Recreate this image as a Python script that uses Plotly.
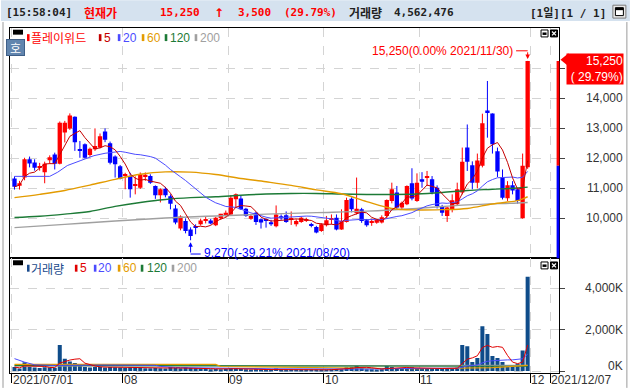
import plotly.graph_objects as go
import pandas as pd

# ---------------- data ----------------
month_tick_pos = [-0.5, 21.5, 42.5, 61.5, 80.5, 102.5, 106.5]
month_tick_text = ["2021/07/01", "08", "09", "10", "11", "12", "2021/12/07"]

opens = [11330, 11090, 11360, 11970, 11860, 11690, 11540, 11940, 12130, 11820,
         12860, 13000, 13390, 12310, 12470, 12110, 12300, 12360, 12900, 12500,
         12060, 11740,
         11430, 11410, 11100, 11020, 11400, 11410, 11080, 10770, 10990, 10740,
         10330, 9660, 9910, 9630, 9740, 9800, 9930, 9930, 9770, 10000, 10100,
         10130, 10640, 10660, 10320, 9990, 10190, 9970, 9980, 9870, 9740,
         10070, 10100, 9970, 9800, 9880, 9920, 9800, 9710, 9580,
         9770, 9950, 10020, 9630, 9880, 10650, 10170, 10300, 9940, 9850,
         9850, 9860, 10080, 10580, 10860, 10360, 10470, 11170, 10580,
         11300, 11350, 11300, 11020, 10410, 10080, 10300, 10470, 10860, 12360,
         11770, 11190, 11750, 13600, 13500, 12240, 11360, 10670, 11100, 10970,
         10000, 11700]
highs = [11400, 11250, 12020, 12060, 11970, 11850, 11890, 12100, 12190, 13230,
         13250, 13500, 13400, 12580, 12500, 12360, 13000, 12830, 13000, 12560,
         12100, 11780,
         11520, 11520, 11400, 11530, 11530, 11470, 11100, 11000, 11050, 10800,
         10450, 10100, 10000, 9700, 9800, 9990, 10050, 9980, 10050, 10150, 10260,
         10770, 10830, 10750, 10350, 10150, 10220, 10000, 10000, 9950, 10430,
         10130, 10230, 10230, 9970, 10050, 10020, 9850, 9750, 9830,
         10080, 10130, 10130, 10300, 10690, 10700, 11360, 10350, 9980, 9990,
         9980, 10100, 10630, 11190, 11080, 10560, 11100, 11670, 11500,
         11540, 11580, 11410, 11100, 10450, 10380, 10800, 11190, 12360, 13130,
         11900, 12160, 13490, 14580, 13500, 12360, 11630, 11240, 11240, 10990,
         12160, 15250]
lows = [10960, 10960, 11270, 11700, 11590, 11590, 11170, 11820, 11630, 11800,
        12530, 12950, 12250, 12020, 12000, 12050, 12250, 12330, 12540, 11800,
        11360, 11300,
        10970, 10690, 10800, 10980, 11250, 11150, 10650, 10530, 10700, 10300,
        9800, 9600, 9500, 9270, 9470, 9760, 9830, 9800, 9740, 9950, 10050,
        10100, 10350, 10280, 10050, 9950, 9780, 9660, 9690, 9750, 9700,
        9950, 9850, 9780, 9730, 9850, 9880, 9700, 9500, 9550,
        9730, 9800, 9600, 9620, 9860, 10200, 10130, 9850, 9720, 9750,
        9820, 9830, 9990, 10500, 10300, 10300, 10440, 10600, 10550,
        11020, 11080, 10800, 10330, 10080, 9880, 10200, 10420, 10800, 11580,
        10970, 11000, 11700, 12690, 12160, 11380, 10630, 10580, 10800, 10490,
        9990, 11650]
closes = [11050, 11170, 11970, 11830, 11690, 11740, 11820, 12040, 11820, 13190,
          13190, 13430, 12540, 12270, 12020, 12320, 12410, 12740, 12620, 11850,
          11800, 11320,
          11460, 10970, 11140, 11470, 11450, 11190, 10770, 10970, 10770, 10490,
          9860, 10060, 9580, 9410, 9700, 9930, 9960, 9830, 10020, 10150, 10190,
          10690, 10800, 10300, 10080, 10080, 9880, 9860, 9930, 9800, 10130,
          10000, 9880, 10000, 9910, 10020, 9970, 9750, 9530, 9800,
          9940, 10000, 9630, 9910, 10610, 10300, 10320, 9910, 9770, 9880,
          9950, 10040, 10610, 10970, 10360, 10520, 11080, 10660, 11190,
          11220, 11400, 10860, 10410, 10190, 10360, 10600, 10970, 11890, 11890,
          11190, 11930, 13170, 13510, 12470, 11560, 10690, 11100, 10930, 10580,
          11750, 15250]
volumes_k = [190, 120, 430, 190, 170, 150, 180, 170, 160, 1265,
             590, 465, 385, 270, 190, 170, 200, 190, 170, 190, 180, 170,
             160, 180, 190, 160, 140, 130, 150, 140, 120, 190,
             150, 140, 180, 150, 130, 110, 100, 90, 100, 90, 100,
             150, 130, 100, 80, 70, 80, 70, 60, 60, 120,
             70, 60, 70, 60, 60, 60, 50, 60, 60,
             70, 80, 100, 90, 180, 200, 270, 150, 90, 80,
             70, 90, 270, 200, 150, 100, 150, 180, 140,
             130, 110, 120, 150, 110, 120, 110, 170, 1265, 1200,
             433, 625, 2165, 1795, 722, 625, 433, 190, 190, 352,
             995, 4562.476]

ma20_head_idx = [0, 7, 8.6, 10.5, 13.2, 15.8, 18]
ma20_head_val = [11400, 11400, 11540, 11760, 11930, 12090, 12170]
ma60_idx = [0, 5, 10, 15, 20, 25, 30, 35, 40, 45, 50, 55, 60, 65, 70, 75, 80, 85, 90, 95, 100, 101, 102]
ma60_val = [10690, 10800, 10930, 11110, 11300, 11470, 11550, 11540, 11460, 11330, 11220, 11100,
            10950, 10820, 10560, 10330, 10280, 10290, 10330, 10480, 10590, 10650, 10720]
ma120_idx = [0, 5, 10, 15, 20, 25, 30, 35, 40, 45, 50, 55, 60, 65, 70, 75, 80, 85, 90, 95, 100, 102]
ma120_val = [10030, 10070, 10140, 10230, 10400, 10530, 10630, 10690, 10720, 10770, 10810, 10830,
             10830, 10810, 10795, 10795, 10810, 10860, 10930, 10970, 11010, 11040]
ma200_idx = [0, 10, 20, 30, 40, 50, 60, 70, 80, 90, 100, 102]
ma200_val = [9690, 9800, 9910, 10010, 10080, 10140, 10190, 10240, 10330, 10450, 10510, 10530]

vma20_head_idx = [0, 2, 4, 8, 18]
vma20_head_val = [600, 430, 300, 270, 290]
vma60_idx = [0, 40, 41, 60, 80, 95, 102]
vma60_val = [320, 320, 220, 150, 110, 160, 270]
vma120_idx = [0, 60, 102]
vma120_val = [270, 260, 230]
vma200_idx = [0, 60, 102]
vma200_val = [240, 250, 270]

price_ticks = [10000, 11000, 12000, 13000, 14000, 15000]
price_tick_text = ["10,000", "11,000", "12,000", "13,000", "14,000"]
vol_ticks = [0, 2000000, 4000000]
vol_tick_text = ["0K", "2,000K", "4,000K"]

header_time = "[15:58:04]"
header_price = "15,250"
header_change = "3,500"
header_pct = "(29.79%)"
header_volume = "4,562,476"
box_pct = "( 29.79%)"
prev_close = closes[-2]

# ---------------- geometry / style ----------------
W, H = 630, 391
ML, MR, MT, MB = 9, 71, 28, 15
PW, PH = W - ML - MR, H - MT - MB
SPLIT_PX = 260.5
SPLIT = (H - MB - SPLIT_PX) / PH
X_MIN, X_MAX = -0.893, 108.23
P_MAX = 14000 + (99 - MT) / 0.03025
P_MIN = 14000 - (SPLIT_PX - 99) / 0.03025
V_MAX = (374 - SPLIT_PX) / 20.825 * 1000000
V_MIN = (374 - (H - MB)) / 20.825 * 1000000

RED = "#ff0000"
BLUE = "#0000ff"
VOLC = "#0f4c8a"
MA5C = "#c40000"
MA20C = "#4b4bff"
MA60C = "#e39b00"
MA120C = "#1c7a36"
MA200C = "#a0a0a0"
GRID = "#d4d4d4"
TXT = "#333333"
NUMF = "Liberation Sans, Arial, sans-serif"
MONO = "DejaVu Sans Mono, monospace"
KR = "Noto Sans CJK KR, sans-serif"


def fx(px):
    return (px - ML) / PW


def fy(py):
    return (H - MB - py) / PH


def idx_at(px):
    return X_MIN + (px - ML) / PW * (X_MAX - X_MIN)


def price_at(py):
    return P_MAX - (py - MT) / (SPLIT_PX - MT) * (P_MAX - P_MIN)


idx = list(range(len(closes)))
close_s = pd.Series(closes, dtype=float)
ma5 = close_s.rolling(5, min_periods=1).mean()
ma20 = close_s.rolling(20).mean()
vol = pd.Series(volumes_k, dtype=float) * 1000
vma5 = vol.rolling(5, min_periods=1).mean()
vma20 = vol.rolling(20).mean()

fig = go.Figure()

# ---- candles: wicks (scatter segments) + bodies (bars with base) ----
up = [c >= o for o, c in zip(opens, closes)]
min_body = 20
for is_up, color in ((True, RED), (False, BLUE)):
    wx, wy = [], []
    for i in idx:
        if up[i] == is_up:
            wx += [i, i, None]
            wy += [lows[i], highs[i], None]
    fig.add_trace(go.Scatter(x=wx, y=wy, mode="lines", line=dict(color=color, width=1),
                             xaxis="x", yaxis="y", hoverinfo="skip", showlegend=False))
body_base = [min(o, c) for o, c in zip(opens, closes)]
body_h = [max(abs(c - o), min_body) for o, c in zip(opens, closes)]
fig.add_trace(go.Bar(x=idx, y=body_h, base=body_base, width=0.86,
                     marker=dict(color=[RED if u else BLUE for u in up], line=dict(width=0)),
                     xaxis="x", yaxis="y", hoverinfo="skip", showlegend=False))


def line(x, y, color, width, ax, shape="linear"):
    fig.add_trace(go.Scatter(x=x, y=y, mode="lines", xaxis=ax[0], yaxis=ax[1],
                             line=dict(color=color, width=width, shape=shape),
                             hoverinfo="skip", showlegend=False))


line(ma200_idx, ma200_val, MA200C, 1.4, ("x", "y"), "spline")
line(ma120_idx, ma120_val, MA120C, 1.4, ("x", "y"), "spline")
line(ma60_idx, ma60_val, MA60C, 1.4, ("x", "y"), "spline")
line(ma20_head_idx + idx[19:], ma20_head_val + list(ma20[19:]), MA20C, 1, ("x", "y"))
line(idx, list(ma5), MA5C, 1, ("x", "y"))

fig.add_trace(go.Bar(x=idx, y=list(vol), width=0.8, marker=dict(color=VOLC, line=dict(width=0)),
                     xaxis="x2", yaxis="y2", hoverinfo="skip", showlegend=False))
line(vma200_idx, [v * 1000 for v in vma200_val], MA200C, 1.2, ("x2", "y2"))
line(vma120_idx, [v * 1000 for v in vma120_val], MA120C, 1.2, ("x2", "y2"))
line(vma60_idx, [v * 1000 for v in vma60_val], MA60C, 1.2, ("x2", "y2"))
line(vma20_head_idx + idx[19:], [v * 1000 for v in vma20_head_val] + list(vma20[19:]), MA20C, 1, ("x2", "y2"))
line(idx, list(vma5), "#e00000", 1, ("x2", "y2"))

shapes = []
ann = []

# header band
shapes.append(dict(type="rect", xref="paper", yref="paper", x0=fx(0), x1=fx(W), y0=fy(21), y1=fy(0),
                   fillcolor="#d5e2ef", line=dict(width=0), layer="below"))
# outer frame lines
for xpx in (2, 627):
    shapes.append(dict(type="line", xref="paper", yref="paper", x0=fx(xpx), x1=fx(xpx), y0=fy(22), y1=fy(H),
                       line=dict(color="#9a9a9a", width=1)))
# header icon
shapes.append(dict(type="rect", xref="paper", yref="paper", x0=fx(613), x1=fx(626), y0=fy(18), y1=fy(5),
                   fillcolor="#e8e8e8", line=dict(color="#7a7a7a", width=1)))
shapes.append(dict(type="rect", xref="paper", yref="paper", x0=fx(615.5), x1=fx(623.5), y0=fy(15.5), y1=fy(7.5),
                   fillcolor="white", line=dict(color="black", width=1)))
shapes.append(dict(type="rect", xref="paper", yref="paper", x0=fx(615.5), x1=fx(623.5), y0=fy(10), y1=fy(7.5),
                   fillcolor="black", line=dict(width=0)))


def htext(px, text, color, family=MONO, size=11, bold=True):
    t = f"<b>{text}</b>" if bold else text
    ann.append(dict(x=fx(px), y=fy(12.5), xref="paper", yref="paper", text=t, showarrow=False,
                    xanchor="left", yanchor="middle", borderpad=0,
                    font=dict(family=family, size=size, color=color)))


htext(4, header_time, "#222222")
htext(82, "현재가", RED, KR, 12)
htext(158, header_price, RED)
htext(212, "↑", RED, "DejaVu Sans", 12)
htext(236, header_change, RED)
htext(282, header_pct, RED)
htext(348, "거래량", "#222222", KR, 12)
htext(393, header_volume, "#222222")
htext(529, "[1일][1 / 1]", "#222222", MONO + ", " + KR, 11)

# panel icons
for top in (30, 264):
    shapes.append(dict(type="rect", xref="paper", yref="paper", x0=fx(541), x1=fx(548), y0=fy(top + 7), y1=fy(top),
                       fillcolor="white", line=dict(color="black", width=1)))
    shapes.append(dict(type="rect", xref="paper", yref="paper", x0=fx(542.5), x1=fx(546.5), y0=fy(top + 5), y1=fy(top + 2.5),
                       fillcolor="black", line=dict(width=0)))
    shapes.append(dict(type="rect", xref="paper", yref="paper", x0=fx(550.5), x1=fx(557.5), y0=fy(top + 7), y1=fy(top),
                       fillcolor="black", line=dict(color="black", width=1)))
    shapes.append(dict(type="line", xref="paper", yref="paper", x0=fx(552), x1=fx(556), y0=fy(top + 5.5), y1=fy(top + 1.5),
                       line=dict(color="white", width=1.2)))
    shapes.append(dict(type="line", xref="paper", yref="paper", x0=fx(552), x1=fx(556), y0=fy(top + 1.5), y1=fy(top + 5.5),
                       line=dict(color="white", width=1.2)))


def legend(ycen, items):
    shapes.append(dict(type="rect", xref="paper", yref="paper", x0=fx(12), x1=fx(22), y0=fy(ycen - 3), y1=fy(ycen - 8),
                       fillcolor="black", line=dict(width=0)))
    for text, color, mx, tx, fam in items:
        shapes.append(dict(type="rect", xref="paper", yref="paper", x0=fx(mx), x1=fx(mx + 2.6),
                           y0=fy(ycen + 3.5), y1=fy(ycen - 3.5), fillcolor=color, line=dict(width=0)))
        ann.append(dict(x=fx(tx), y=fy(ycen), xref="paper", yref="paper", text=text, showarrow=False,
                        xanchor="left", yanchor="middle", borderpad=0,
                        font=dict(family=fam, size=12, color=color)))


legend(37.7, [("플레이위드", RED, 26, 29.5, KR), ("5", MA5C, 98, 102.5, NUMF), ("20", MA20C, 117, 121, NUMF),
              ("60", MA60C, 141, 145, NUMF), ("120", MA120C, 164, 168.5, NUMF), ("200", MA200C, 194, 198.5, NUMF)])
legend(270.3, [("거래량", "#1a4a8c", 26, 29.5, KR), ("5", "#e00000", 74, 78.5, NUMF), ("20", MA20C, 93, 96.5, NUMF),
               ("60", MA60C, 117, 121, NUMF), ("120", MA120C, 140, 145, NUMF), ("200", MA200C, 171, 175.5, NUMF)])

# "호" box
ann.append(dict(x=fx(14.5), y=fy(47.3), xref="paper", yref="paper", text="호", showarrow=False,
                xanchor="center", yanchor="middle", bgcolor="#6185ae", bordercolor="#3f5f88", borderwidth=1,
                borderpad=1, width=15, height=13, font=dict(family=KR, size=12, color="white")))

# price axis labels (right aligned)
for v, t in zip(price_ticks, price_tick_text):
    ann.append(dict(x=fx(624), y=v, xref="paper", yref="y", text=t, showarrow=False, xanchor="right",
                    yanchor="middle", borderpad=0, font=dict(family=NUMF, size=12, color=TXT)))
for v, t in zip(vol_ticks, vol_tick_text):
    ann.append(dict(x=fx(624), y=v, xref="paper", yref="y2", text=t, showarrow=False, xanchor="right",
                    yanchor="middle", borderpad=0, yshift=5 if v == 0 else 0,
                    font=dict(family=NUMF, size=12, color=TXT)))
# x labels
for p, t in zip(month_tick_pos, month_tick_text):
    ann.append(dict(x=p, y=fy(383.5), xref="x2", yref="paper", text=t, showarrow=False, xanchor="left",
                    yanchor="middle", xshift=0, borderpad=0, font=dict(family=NUMF, size=12, color=TXT)))

# current price box + side bar
last = closes[-1]
ann.append(dict(x=fx(624.5), y=last, xref="paper", yref="y", text=f"{last:,}<br>{box_pct}", showarrow=False,
                xanchor="right", yanchor="top", yshift=8, align="right", bgcolor=RED, borderpad=0,
                width=56, font=dict(family=NUMF, size=12, color="white")))
shapes.append(dict(type="path", xref="paper", yref="paper",
                   path=f"M {fx(568.5)},{fy(53.5)} L {fx(560.5)},{fy(60)} L {fx(568.5)},{fy(66.5)} Z",
                   fillcolor=RED, line=dict(width=0)))
shapes.append(dict(type="rect", xref="paper", yref="y", x0=fx(556.6), x1=fx(559.4), y0=prev_close, y1=last,
                   fillcolor=RED, line=dict(width=0)))
shapes.append(dict(type="rect", xref="paper", yref="y", x0=fx(556.6), x1=fx(559.4), y0=P_MIN, y1=prev_close,
                   fillcolor=BLUE, line=dict(width=0)))

# high / low markers
hi_i = len(closes) - 1
hi_y = price_at(51)
ann.append(dict(x=idx_at(514), y=hi_y, xref="x", yref="y", text=f"{highs[hi_i]:,}(0.00% 2021/11/30)",
                showarrow=False, xanchor="right", yanchor="middle", borderpad=0,
                font=dict(family=NUMF, size=12, color=RED)))
shapes.append(dict(type="line", xref="x", yref="y", x0=idx_at(516), x1=hi_i, y0=hi_y, y1=hi_y,
                   line=dict(color=RED, width=1)))
ann.append(dict(x=hi_i, y=highs[hi_i], xref="x", yref="y", ax=hi_i, ay=hi_y, axref="x", ayref="y",
                text="", showarrow=True, arrowhead=2, arrowsize=0.9, arrowwidth=1, arrowcolor=RED, standoff=2))

lo_i = lows.index(min(lows))
lo_y = price_at(256)
ann.append(dict(x=idx_at(202), y=price_at(254.5), xref="x", yref="y", text=f"{lows[lo_i]:,}(-39.21% 2021/08/20)",
                showarrow=False, xanchor="left", yanchor="middle", borderpad=0,
                font=dict(family=NUMF, size=12, color=BLUE)))
shapes.append(dict(type="line", xref="x", yref="y", x0=lo_i, x1=idx_at(200), y0=lo_y, y1=lo_y,
                   line=dict(color=BLUE, width=1)))
ann.append(dict(x=lo_i, y=lows[lo_i], xref="x", yref="y", ax=lo_i, ay=lo_y, axref="x", ayref="y",
                text="", showarrow=True, arrowhead=2, arrowsize=0.9, arrowwidth=1, arrowcolor=BLUE, standoff=2))

axis_common = dict(showline=True, linecolor="black", linewidth=1, mirror=True, zeroline=False,
                   showgrid=True, gridcolor=GRID, gridwidth=1, griddash="dash", fixedrange=True)

fig.update_layout(
    width=W, height=H, margin=dict(l=ML, r=MR, t=MT, b=MB, pad=0),
    paper_bgcolor="white", plot_bgcolor="white", showlegend=False, barmode="overlay",
    shapes=shapes, annotations=ann,
    xaxis=dict(domain=[0, 1], anchor="y", range=[X_MIN, X_MAX], tickvals=month_tick_pos,
               showticklabels=False, ticks="", **axis_common),
    xaxis2=dict(domain=[0, 1], anchor="y2", range=[X_MIN, X_MAX], tickvals=month_tick_pos,
                showticklabels=False, ticks="outside", ticklen=9, tickcolor="black", tickwidth=1,
                **axis_common),
    yaxis=dict(domain=[SPLIT, 1], anchor="x", side="right", range=[P_MIN, P_MAX], tickvals=price_ticks,
               showticklabels=False, ticks="outside", ticklen=5, tickcolor="#444444", **axis_common),
    yaxis2=dict(domain=[0, SPLIT], anchor="x2", side="right", range=[V_MIN, V_MAX], tickvals=vol_ticks,
                showticklabels=False, ticks="outside", ticklen=5, tickcolor="#444444", **axis_common),
)

fig.write_html("out.html", config={"displayModeBar": False},
               post_script="document.body.style.margin='0';document.body.style.overflow='hidden';")
